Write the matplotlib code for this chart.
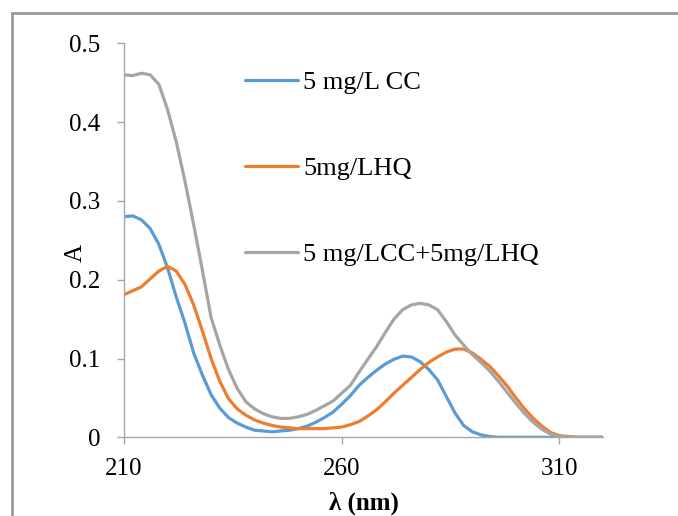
import matplotlib
matplotlib.use("Agg")
import matplotlib.pyplot as plt
from matplotlib.patches import Rectangle

plt.rcParams['font.family'] = ['Liberation Serif', 'DejaVu Serif']

wavelength = list(range(210, 322, 2))

cc = [0.280, 0.281, 0.276, 0.265, 0.245, 0.215, 0.178, 0.145, 0.107, 0.079,
      0.054, 0.037, 0.025, 0.018, 0.013, 0.009, 0.008, 0.007, 0.008, 0.009,
      0.011, 0.014, 0.019, 0.025, 0.032, 0.042, 0.053, 0.066, 0.076, 0.085,
      0.093, 0.099, 0.103, 0.102, 0.096, 0.086, 0.073, 0.052, 0.031, 0.015,
      0.007, 0.003, 0.001, 0.000, 0.000, 0.000, 0.000, 0.000, 0.000, 0.000,
      0.000, 0.000, 0.000, 0.000, 0.000, 0.000]

hq = [0.181, 0.186, 0.191, 0.201, 0.211, 0.217, 0.211, 0.194, 0.168, 0.135,
      0.100, 0.071, 0.049, 0.036, 0.028, 0.022, 0.018, 0.015, 0.013, 0.012,
      0.011, 0.011, 0.011, 0.011, 0.012, 0.013, 0.016, 0.020, 0.027, 0.035,
      0.045, 0.056, 0.066, 0.076, 0.086, 0.095, 0.102, 0.108, 0.112, 0.112,
      0.107, 0.099, 0.090, 0.078, 0.065, 0.050, 0.036, 0.024, 0.014, 0.006,
      0.002, 0.001, 0.000, 0.000, 0.000, 0.000]

mix = [0.460, 0.459, 0.462, 0.460, 0.448, 0.416, 0.375, 0.325, 0.270, 0.212,
       0.152, 0.117, 0.086, 0.062, 0.045, 0.036, 0.030, 0.026, 0.024, 0.024,
       0.026, 0.029, 0.034, 0.040, 0.046, 0.056, 0.066, 0.083, 0.099, 0.115,
       0.133, 0.150, 0.162, 0.168, 0.170, 0.168, 0.162, 0.147, 0.130, 0.117,
       0.105, 0.095, 0.084, 0.071, 0.057, 0.043, 0.030, 0.019, 0.010, 0.004,
       0.001, 0.000, 0.000, 0.000, 0.000, 0.000]

labels = ['5 mg/L CC', '5mg/LHQ', '5 mg/LCC+5mg/LHQ']
colors = ['#5B9BD5', '#ED7D31', '#A5A5A5']
x_ticks = [210, 260, 310]
y_ticks = [0, 0.1, 0.2, 0.3, 0.4, 0.5]
y_tick_labels = ['0', '0.1', '0.2', '0.3', '0.4', '0.5']

W, H = 678, 516
fig = plt.figure(figsize=(W / 100, H / 100), dpi=100)
fig.patches.append(Rectangle((11.7 / W, -0.1), 1.2, 1.1 - 13.3 / H,
                             transform=fig.transFigure, fill=False,
                             edgecolor='#999999', linewidth=2.0))

ax = fig.add_axes([124 / W, 1 - 437.3 / H, (603 - 124) / W, (437.3 - 43.3) / H])
for series, lab, col in zip([cc, hq, mix], labels, colors):
    ax.plot(wavelength, series, color=col, linewidth=2.3, label=lab,
            solid_capstyle='round')

ax.set_xlim(210, 320)
ax.set_ylim(0, 0.5)
ax.set_xticks(x_ticks)
ax.set_yticks(y_ticks)
ax.set_yticklabels(y_tick_labels)
for s in ['top', 'right']:
    ax.spines[s].set_visible(False)
for s in ['left', 'bottom']:
    ax.spines[s].set_color('#A6A6A6')
    ax.spines[s].set_linewidth(1.0)
ax.tick_params(axis='both', colors='#A6A6A6', labelcolor='black',
               length=5, width=1.0, labelsize=18, direction='out')
ax.tick_params(axis='x', pad=10)
ax.tick_params(axis='y', pad=12)

ax.set_xlabel('λ (nm)', fontsize=18, fontweight='bold')
ax.xaxis.set_label_coords(0.5, -(503 - 437.3) / (437.3 - 43.3))
ax.xaxis.label.set_verticalalignment('center')
ax.set_ylabel('A', fontsize=18)
ax.yaxis.set_label_coords(-(124 - 76) / (603 - 124), (437.3 - 253) / (437.3 - 43.3))
ax.yaxis.label.set_verticalalignment('center')

leg = ax.legend(frameon=False, fontsize=19, loc='upper left',
                bbox_to_anchor=(245 / W, 1 - 71 / H),
                bbox_transform=fig.transFigure,
                borderpad=0, borderaxespad=0, handlelength=2.0,
                handletextpad=0.2, labelspacing=2.37)

fig.savefig('out.png', dpi=100)
